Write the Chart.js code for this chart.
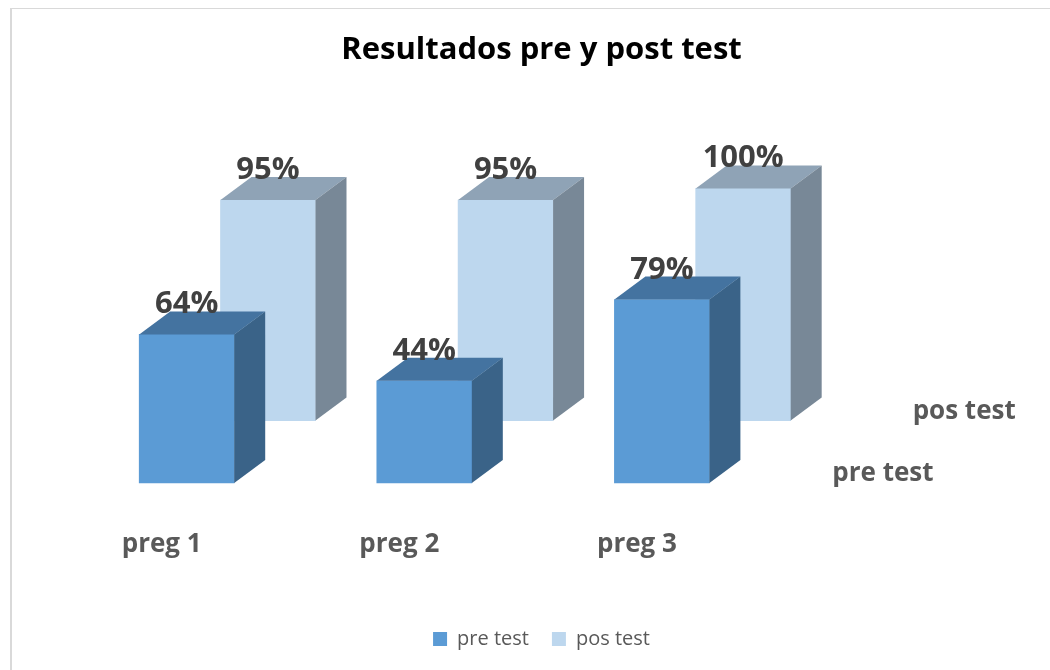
<!DOCTYPE html>
<html>
<head>
<meta charset="utf-8">
<script src="https://cdn.jsdelivr.net/npm/chart.js@4.4.1/dist/chart.umd.min.js"></script>
<style>
  html,body{margin:0;padding:0;background:#fff;overflow:hidden;width:1050px;height:670px;}
  #frame{position:absolute;left:10px;top:8px;right:0;bottom:0;
         border-left:2px solid #d9d9d9;border-top:1px solid #d9d9d9;}
  #wrap{position:absolute;left:0;top:0;width:1050px;height:670px;}
</style>
</head>
<body>
<div id="frame"></div>
<div id="wrap"><canvas id="chart" width="1050" height="670"></canvas></div>
<script>
// ==================== Data ====================
const categories  = ['preg 1', 'preg 2', 'preg 3'];
const seriesNames = ['pre test', 'pos test'];
const preTest     = [64, 44, 79];
const posTest     = [95, 95, 100];

// ==================== Look ====================
const FONT = "'Open Sans', 'DejaVu Sans', sans-serif";
const GREY = '#595959';
const DX = 31, DY = 23;   // depth of the boxes
const faces = [
  {front:'#5b9bd5', top:'#4473a0', side:'#3a6388'},   // pre test
  {front:'#bdd7ee', top:'#8fa3b6', side:'#788897'}    // pos test
];

// ==================== 3D faces + labels ====================
const bars3d = {
  id:'bars3d',
  afterDatasetDraw(chart, args){
    const ctx = chart.ctx, c = faces[args.index];
    args.meta.data.forEach(bar=>{
      const {x, y, base, width} = bar.getProps(['x','y','base','width'], true);
      const l = x - width/2, r = x + width/2;
      ctx.save();
      ctx.fillStyle = c.top;
      ctx.beginPath();
      ctx.moveTo(l, y); ctx.lineTo(l+DX, y-DY); ctx.lineTo(r+DX, y-DY); ctx.lineTo(r, y);
      ctx.closePath(); ctx.fill();
      ctx.fillStyle = c.side;
      ctx.beginPath();
      ctx.moveTo(r, y); ctx.lineTo(r+DX, y-DY); ctx.lineTo(r+DX, base-DY); ctx.lineTo(r, base);
      ctx.closePath(); ctx.fill();
      ctx.restore();
    });
  },
  afterDatasetsDraw(chart){
    const ctx = chart.ctx;
    ctx.save();
    // value labels
    ctx.font = `bold 31px ${FONT}`;
    ctx.fillStyle = '#404040';
    ctx.textAlign = 'center';
    ctx.textBaseline = 'alphabetic';
    chart.data.datasets.forEach((ds, di)=>{
      chart.getDatasetMeta(di).data.forEach((bar, i)=>{
        const {x, y} = bar.getProps(['x','y'], true);
        ctx.fillText(ds.data[i].y + '%', x, y - 21);
      });
    });
    // series names on the depth axis
    ctx.font = `bold 26px ${FONT}`;
    ctx.fillStyle = GREY;
    ctx.textBaseline = 'middle';
    const last = categories.length - 1;
    [['x','y'], ['x2','y2']].forEach(([xs, ys], di)=>{
      const px = chart.scales[xs].getPixelForValue(last) + 221;
      const py = chart.scales[ys].getPixelForValue(0) - 9;
      ctx.fillText(seriesNames[di], px, py);
    });
    ctx.restore();
  }
};

// ==================== Chart ====================
new Chart(document.getElementById('chart'), {
  type:'bar',
  data:{
    datasets:[
      {
        label: seriesNames[0],
        data: preTest.map((v,i)=>({x:i, y:v})),
        backgroundColor: faces[0].front,
        borderWidth: 0,
        barThickness: 95,
        grouped: false,
        clip: false,
        xAxisID:'x', yAxisID:'y'
      },
      {
        label: seriesNames[1],
        data: posTest.map((v,i)=>({x:i, y:v})),
        backgroundColor: faces[1].front,
        borderWidth: 0,
        barThickness: 95,
        grouped: false,
        clip: false,
        xAxisID:'x2', yAxisID:'y2'
      }
    ]
  },
  options:{
    responsive:false,
    animation:false,
    layout:{ padding:{top:0, bottom:11, left:36, right:3} },
    plugins:{
      title:{
        display:true,
        text:'Resultados pre y post test',
        color:'#000',
        font:{family:FONT, size:31, weight:'bold'},
        padding:{top:32, bottom:18}
      },
      legend:{
        position:'bottom',
        labels:{
          boxWidth:14, boxHeight:14, padding:23,
          color:GREY,
          font:{family:FONT, size:20}
        }
      },
      tooltip:{enabled:false}
    },
    scales:{
      x:{
        type:'linear', offset:false,
        min:-0.6343, max:3.6208,
        grid:{display:false, drawTicks:false},
        border:{display:false},
        afterBuildTicks: s => { s.ticks = categories.map((c,i)=>({value:i})); },
        afterFit: s => { s.height = 123; },
        ticks:{
          autoSkip:false, maxRotation:0,
          padding:46, labelOffset:-25,
          color:GREY,
          font:{family:FONT, size:26, weight:'bold'},
          callback: v => categories[v]
        }
      },
      x2:{ type:'linear', display:false, offset:false, min:-0.9764, max:3.2787 },
      y:{ display:false, min:0, max:170.5 },
      y2:{ display:false, min:-26.9, max:143.6 }
    }
  },
  plugins:[bars3d]
});
</script>
</body>
</html>
